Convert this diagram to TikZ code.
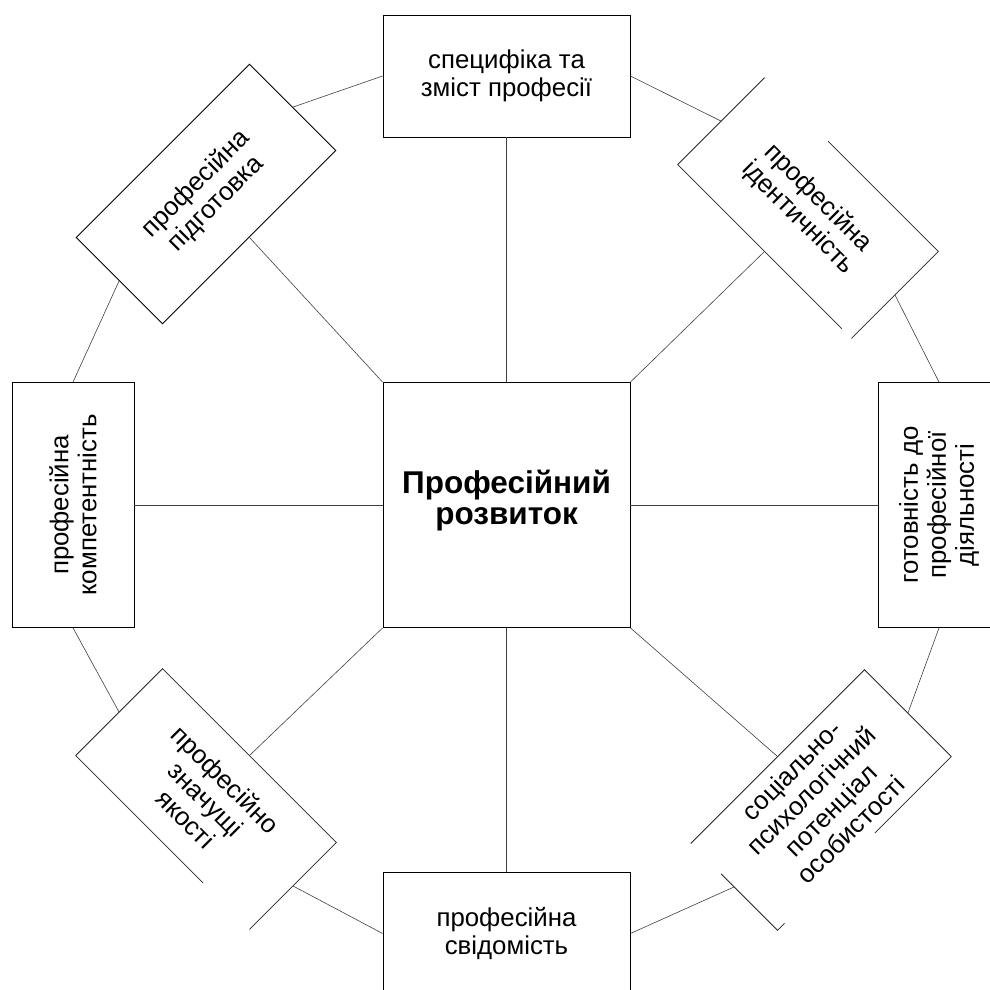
\documentclass[tikz,border=0pt]{standalone}
\usepackage{fontspec}
\setmainfont{Liberation Sans}
\usetikzlibrary{calc}
\begin{document}
\begin{tikzpicture}[x=1pt,y=-1pt,
  box/.style={draw=black, line width=0.8pt, fill=white, inner sep=0pt, align=center,
    font=\fontsize{25.8}{28}\selectfont},
  wide/.style={box, minimum width=247pt, minimum height=122pt},
  long/.style={box, minimum width=245pt, minimum height=122pt},
  open/.style={long, draw=none},
  edge/.style={draw=black!85, line width=0.8pt},
  link/.style={draw=black!75, line width=0.6pt}]
\useasboundingbox (0,0) rectangle (990,990);
% centre
\node[box, minimum width=247pt, minimum height=245pt, text depth=15pt,
  font=\bfseries\fontsize{31.5}{30.5}\selectfont] (c) at (506.5,505) {Професійний\\розвиток};
% axis boxes
\node[wide] (t) at (506.5,76) {специфіка та\\зміст професії};
\node[wide] (b) at (506.5,933.5) {професійна\\свідомість};
\node[long, rotate=90] (l) at (73,505) {професійна\\компетентність};
\node[long, rotate=90] (r) at (939,505) {готовність до\\професійної\\діяльності};
% diagonal boxes
\node[long, rotate=45] (tl) at (206,194) {професійна\\підготовка};
\node[open, rotate=-45] (tr) at (808,208) {професійна\\ідентичність};
\node[open, rotate=-45] (bl) at (206,799) {професійно\\значущі\\якості};
\node[open, rotate=45] (br) at (821,800) {соціально-\\психологічний\\потенціал\\особистості};
% outlines of the diagonal boxes, with the gaps the reference shows
\draw[edge] (tr.south west) -- (tr.north west);
\draw[edge] ($(tr.north west)!0.365!(tr.north east)$) -- (tr.north east) -- (tr.south east);
\draw[edge] (tr.south west) -- ($(tr.south west)!0.945!(tr.south east)$);
\draw[edge] (bl.south west) -- (bl.north west) -- (bl.north east) -- (bl.south east);
\draw[edge] (bl.south west) -- ($(bl.south west)!0.733!(bl.south east)$);
\draw[edge] (br.north west) -- (br.north east) -- (br.south east);
\draw[edge] ($(br.north west)!0.35!(br.south west)$) -- (br.south west) -- ($(br.south west)!0.04!(br.south east)$);
\draw[edge] ($(br.south west)!0.56!(br.south east)$) -- (br.south east);
% spokes
\draw[link] (c.north) -- (t.south);
\draw[link] (c.south) -- (b.north);
\draw[link] (c.west) -- (l.south);
\draw[link] (c.east) -- (r.north);
\draw[link] (c.north west) -- (tl.south);
\draw[link] (c.north east) -- (tr.south);
\draw[link] (c.south west) -- (bl.north);
\draw[link] (c.south east) -- (br.north);
% outer ring
\draw[link] (t.west) -- (tl.east);
\draw[link] (tl.west) -- (l.east);
\draw[link] (l.west) -- (bl.west);
\draw[link] (bl.east) -- (b.west);
\draw[link] (b.east) -- (br.west);
\draw[link] (br.east) -- (r.west);
\draw[link] (r.east) -- (tr.east);
\draw[link] (tr.west) -- (t.east);
\end{tikzpicture}
\end{document}
